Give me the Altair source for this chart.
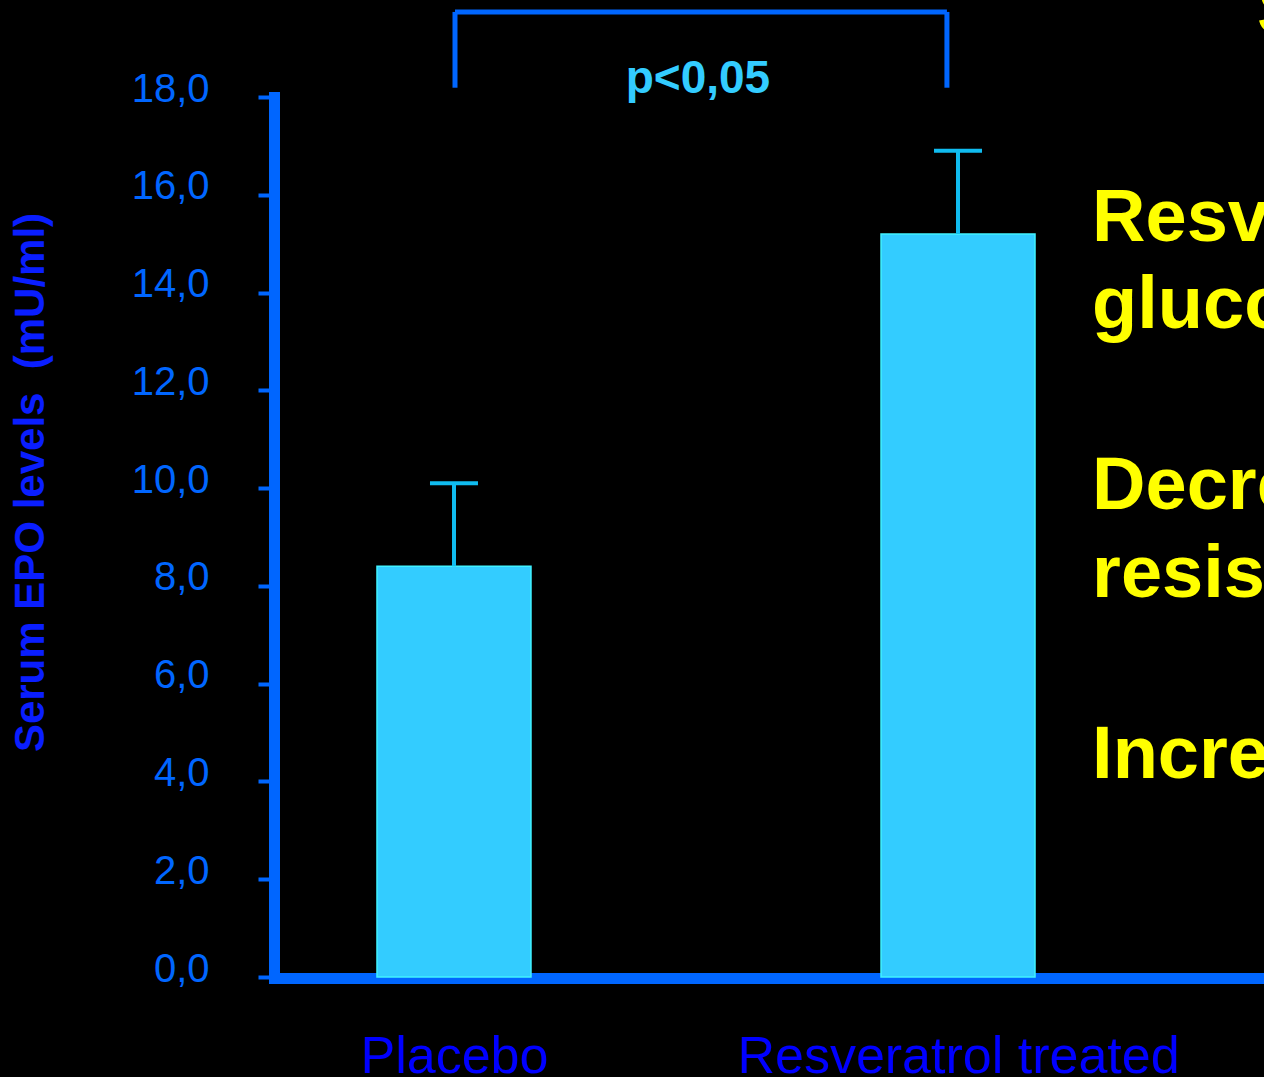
import altair as alt
import pandas as pd

# ---- data ----
categories = ["Placebo", "Resveratrol treated"]
positions = [1, 2]
means = [8.4, 15.2]
err_tops = [10.1, 16.9]

y_ticks = [0, 2, 4, 6, 8, 10, 12, 14, 16, 18]

# significance bracket (data units)
bracket_left = 1.002
bracket_right = 1.978
bracket_top = 19.74
bracket_bottom = 18.19
p_text = "p<0,05"
p_x = 1.484
p_y = 18.08

# yellow side text fragments (clipped at the slide edge)
side_text = ["S", "Resv", "gluco", "Decre", "resis", "Incre"]
side_x = [2.593, 2.266, 2.266, 2.266, 2.266, 2.266]
side_y = [19.29, 15.06, 13.28, 9.58, 7.78, 4.08]

X_DOMAIN = [0.6429, 2.6071]
Y_DOMAIN = [0, 18]

bars_df = pd.DataFrame({"pos": positions, "cat": categories, "mean": means, "err": err_tops})
bracket_h = pd.DataFrame({"x": [bracket_left], "x2": [bracket_right], "y": [bracket_top]})
bracket_v = pd.DataFrame({"x": [bracket_left, bracket_right],
                          "y": [bracket_top, bracket_top],
                          "y2": [bracket_bottom, bracket_bottom]})
p_df = pd.DataFrame({"x": [p_x], "y": [p_y], "t": [p_text]})
side_df = pd.DataFrame({"x": side_x, "y": side_y, "t": side_text})

label_expr = " : ".join(
    f"datum.value == {p} ? '{c}'" for p, c in zip(positions, categories)
) + " : ''"

AXIS_BLUE = "#0066FF"

x_enc = alt.X(
    "pos:Q",
    scale=alt.Scale(domain=X_DOMAIN, nice=False, zero=False, padding=0),
    axis=alt.Axis(
        values=positions, labelExpr=label_expr, title=None, grid=False,
        ticks=False, tickSize=0, domainColor=AXIS_BLUE, domainWidth=11,
        domainCap="square", labelColor="#0000FF", labelFont="Liberation Sans",
        labelFontSize=52, labelPadding=94, labelBaseline="alphabetic",
        labelFlush=False, labelOverlap=False, labelBound=False, labelLimit=0,
        offset=1,
    ),
)
y_enc = alt.Y(
    "mean:Q",
    scale=alt.Scale(domain=Y_DOMAIN, nice=False, padding=0),
    axis=alt.Axis(
        values=y_ticks,
        labelExpr="replace(format(datum.value, '.1f'), '.', ',')",
        grid=False, tickColor=AXIS_BLUE, tickWidth=4, tickSize=16,
        domainColor=AXIS_BLUE, domainWidth=11, domainCap="square",
        labelColor=AXIS_BLUE, labelFont="Liberation Sans", labelFontSize=40,
        labelPadding=49, labelOffset=-8, labelBaseline="middle",
        title="Serum EPO levels \u00a0(mU/ml)", titleColor="#0A1EFF",
        titleFont="Liberation Sans", titleFontSize=42, titleFontWeight="bold",
        titleAngle=270, titleX=-244, titleY=385, titleAlign="center",
        titleBaseline="middle",
    ),
)

bars = alt.Chart(bars_df).mark_bar(
    size=154, color="#33CCFF", stroke="#40F2FF", strokeWidth=1.5
).encode(x=x_enc, y=y_enc)

ERR_COLOR = "#10BCF0"
stems = alt.Chart(bars_df).mark_rule(color=ERR_COLOR, strokeWidth=4).encode(
    x="pos:Q", y="mean:Q", y2="err:Q"
)
caps = alt.Chart(bars_df).mark_tick(
    orient="horizontal", size=48, thickness=4, color=ERR_COLOR, opacity=1
).encode(x="pos:Q", y="err:Q")

br_h = alt.Chart(bracket_h).mark_rule(color=AXIS_BLUE, strokeWidth=5).encode(
    x="x:Q", x2="x2:Q", y="y:Q"
)
br_v = alt.Chart(bracket_v).mark_rule(color=AXIS_BLUE, strokeWidth=5).encode(
    x="x:Q", y="y:Q", y2="y2:Q"
)
p_lbl = alt.Chart(p_df).mark_text(
    font="Liberation Sans", fontSize=46, fontWeight="bold", color="#33CCFF",
    align="center", baseline="alphabetic"
).encode(x="x:Q", y="y:Q", text="t:N")

side = alt.Chart(side_df).mark_text(
    font="Liberation Sans", fontSize=74, fontWeight="bold", color="#FFFF00",
    align="left", baseline="alphabetic"
).encode(x="x:Q", y="y:Q", text="t:N")

chart = alt.layer(bars, stems, caps, br_h, br_v, p_lbl, side).properties(
    width=990, height=880,
    autosize=alt.AutoSizeParams(type="none"),
    padding={"left": 274, "top": 97, "right": 0, "bottom": 100},
).configure(background="black").configure_view(stroke=None)

chart.save("out.html", embed_options={"renderer": "svg", "actions": False})
